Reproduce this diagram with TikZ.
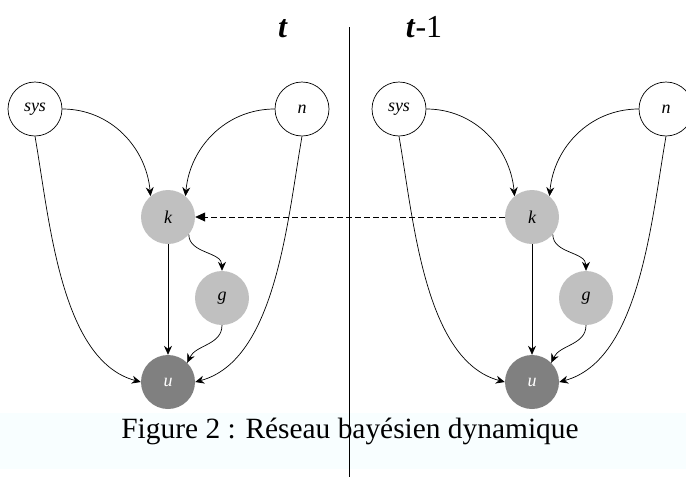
\documentclass[tikz,border=0pt]{standalone}
\usepackage{fontspec}
\setmainfont{Liberation Serif}
\usetikzlibrary{arrows.meta}
\tikzstyle{slice} = [x = 1pt, y = -1pt]
\definecolor{hiddenColor}{RGB}{192,192,192}
\definecolor{utilityColor}{RGB}{128,128,128}
\definecolor{bandColor}{HTML}{F8FEFF}
\tikzstyle{varNode} = [circle, minimum size = 54pt, inner sep = 0pt, font=\fontsize{18}{18}\selectfont\itshape]
\tikzstyle{observedNode} = [varNode, draw=black, fill=white, line width=.7pt]
\tikzstyle{hiddenNode} = [varNode, fill=hiddenColor]
\tikzstyle{utilityNode} = [varNode, fill=utilityColor, text=white]
\tikzstyle{causalArc} = [-{Stealth[length=9pt, width=8pt, inset=3pt]}, line width=.7pt]
\tikzstyle{timeArc} = [-{Triangle[length=10pt, width=9pt]}, dash pattern = on 6pt off 3pt, line width=.7pt]
\tikzstyle{dividerLine} = [line width=.7pt]
\tikzstyle{timeText} = [font=\fontsize{32}{36}\selectfont, anchor=base, inner sep=0pt]
\tikzstyle{captionText} = [font=\fontsize{29.4}{34}\selectfont, anchor=base, inner sep=0pt]
\newcommand{\timeSlice}[2]{
  \node [observedNode] (#1sys) at (35 + #2, 109) {sys};
  \node [observedNode] (#1n) at (302 + #2, 109) {n};
  \node [hiddenNode] (#1k) at (168 + #2, 217) {k};
  \node [hiddenNode] (#1g) at (222 + #2, 298) {g};
  \node [utilityNode] (#1u) at (168 + #2, 382) {u};
  \draw [causalArc] (#1sys.east) to [out=0, in=95] (#1k.130);
  \draw [causalArc] (#1n.west) to [out=180, in=85] (#1k.50);
  \draw [causalArc] (#1sys.south) to [out=-80, in=165, looseness=.8] (#1u.west);
  \draw [causalArc] (#1n.south) to [out=-100, in=15, looseness=.8] (#1u.east);
  \draw [causalArc] (#1k) -- (#1u);
  \draw [causalArc] (#1k.-40) to [out=-90, in=90] (#1g.north);
  \draw [causalArc] (#1g.south) to [out=-90, in=65] (#1u.45);
}

\begin{document}
\begin{tikzpicture}[slice]
  \useasboundingbox (0,0) rectangle (686,477);
  \fill [bandColor] (0,413) rectangle (686,469);
  \node [captionText] (caption) at (350,438) {Figure 2 : Réseau bayésien dynamique};
  \node [timeText] (nowLabel) at (283,37) {\textbf{\textit{t}}};
  \node [timeText] (prevLabel) at (424,37) {\textbf{\textit{t}}-1};
  \timeSlice{now}{0}
  \timeSlice{prev}{364}
  \draw [timeArc] (prevk.west) -- (nowk.east);
  \draw [dividerLine] (349,27) -- (349,477);
\end{tikzpicture}
\end{document}
